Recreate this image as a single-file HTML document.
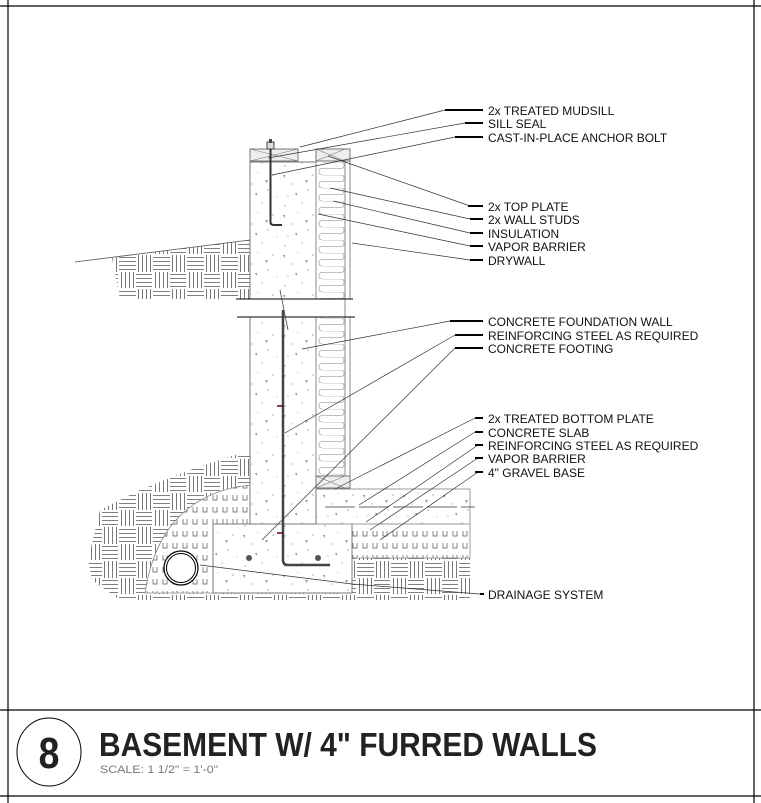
<!DOCTYPE html>
<html><head><meta charset="utf-8"><style>
html,body{margin:0;padding:0;background:#fff;width:761px;height:803px;overflow:hidden}
svg{display:block}
text{font-family:"Liberation Sans",sans-serif}
</style></head><body>
<svg width="761" height="803" viewBox="0 0 761 803" xmlns="http://www.w3.org/2000/svg">
<defs>
<pattern id="earth" width="34" height="34" patternUnits="userSpaceOnUse">
<g stroke="#555" stroke-width="0.8" fill="none">
<path d="M0 2.5h16M0 6.5h16M0 10.5h16M0 14.5h16"/>
<path d="M19.5 0v16M23.5 0v16M27.5 0v16M31.5 0v16"/>
<path d="M2.5 17v17M6.5 17v17M10.5 17v17M14.5 17v17"/>
<path d="M17 19.5h17M17 23.5h17M17 27.5h17M17 31.5h17"/>
</g></pattern>
<pattern id="gravel" width="10" height="12" patternUnits="userSpaceOnUse">
<path d="M3 3v5h4v-5" stroke="#555" stroke-width="0.7" fill="none"/>
</pattern>
<pattern id="conc" width="40" height="40" patternUnits="userSpaceOnUse">
<g fill="#999">
<circle cx="5" cy="6" r="0.7"/><circle cx="22" cy="3" r="0.6"/><circle cx="33" cy="15" r="0.7"/>
<circle cx="12" cy="24" r="0.6"/><circle cx="28" cy="30" r="0.7"/><circle cx="8" cy="36" r="0.6"/>
<circle cx="37" cy="37" r="0.5"/><circle cx="18" cy="13" r="0.5"/>
<path d="M25 20l3 0l-1.5 3z"/><path d="M3 15l2.5 0l-1.2 3z"/><path d="M15 33l2.5 0l-1.2 3z"/>
</g></pattern>
<pattern id="insul" x="318" y="162" width="27" height="13" patternUnits="userSpaceOnUse">
<path d="M4 0 H23 Q26 0 26 3.25 Q26 6.5 23 6.5 H4 Q1 6.5 1 9.75 Q1 13 4 13" stroke="#aaa" stroke-width="0.8" fill="none"/>
</pattern>
</defs>

<!-- frame -->
<g stroke="#000" stroke-width="1.2">
<line x1="0" y1="6" x2="761" y2="6"/>
<line x1="8" y1="0" x2="8" y2="803"/>
<line x1="754" y1="0" x2="754" y2="803"/>
<line x1="0" y1="710" x2="761" y2="710"/>
<line x1="0" y1="796" x2="761" y2="796"/>
</g>

<!-- upper earth -->
<path d="M112 258 L250 240 L250 299 L120 299 Z" fill="url(#earth)"/>
<line x1="75" y1="262" x2="250" y2="240" stroke="#555" stroke-width="0.8"/>
<!-- lower earth -->
<path d="M88 560 L100 510 L140 490 L190 470 L235 455 L250 455 L250 524 L470 524 L470 600 L120 600 L92 580 Z" fill="url(#earth)"/>
<!-- gravel around drain -->
<path d="M145 593 Q160 495 250 485 L250 524 L213 524 L213 593 Z" fill="#fff"/>
<path d="M145 593 Q160 495 250 485 L250 524 L213 524 L213 593 Z" fill="url(#gravel)" stroke="#888" stroke-width="0.8"/>
<!-- gravel under slab -->
<rect x="352" y="524" width="118" height="34" fill="#fff"/>
<rect x="352" y="524" width="118" height="34" fill="url(#gravel)" stroke="#888" stroke-width="0.8"/>

<!-- footing -->
<rect x="213" y="524" width="139" height="69" fill="#fff" stroke="#777"/>
<rect x="213" y="524" width="139" height="69" fill="url(#conc)"/>
<!-- slab -->
<rect x="316" y="489" width="154" height="35" fill="#fff" stroke="#999"/>
<rect x="316" y="489" width="154" height="35" fill="url(#conc)"/>
<line x1="325" y1="507" x2="475" y2="507" stroke="#333" stroke-width="0.8" stroke-dasharray="30 4"/>
<!-- wall -->
<rect x="250" y="162" width="66" height="137" fill="url(#conc)" stroke="#777"/>
<rect x="250" y="317" width="66" height="207" fill="url(#conc)" stroke="#777"/>
<!-- stud wall -->
<rect x="316" y="149" width="34" height="150" fill="#fff" stroke="#888"/>
<rect x="318" y="162" width="27" height="137" fill="url(#insul)"/>
<rect x="316" y="317" width="34" height="172" fill="#fff" stroke="#888"/>
<rect x="318" y="317" width="27" height="159" fill="url(#insul)"/>
<line x1="345" y1="149" x2="345" y2="489" stroke="#888"/>
<!-- top plate -->
<rect x="316" y="149" width="34" height="12" fill="#eee" stroke="#777"/>
<path d="M316 149L345 161M345 149L316 161" stroke="#777" stroke-width="0.6"/>
<!-- bottom plate -->
<rect x="316" y="476" width="34" height="12" fill="#eee" stroke="#777"/>
<path d="M316 476L345 488M345 476L316 488" stroke="#777" stroke-width="0.6"/>
<!-- mudsill -->
<rect x="250" y="149" width="48" height="12" fill="#eee" stroke="#777"/>
<path d="M250 149L298 161M298 149L250 161" stroke="#777" stroke-width="0.6"/>
<!-- anchor bolt -->
<rect x="267" y="142" width="7" height="7" fill="#ddd" stroke="#444"/>
<rect x="269" y="139" width="3" height="4" fill="#444"/>
<path d="M270.5 149 V222 Q270.5 225 274 225 H282" stroke="#333" stroke-width="2" fill="none"/>

<!-- break lines -->
<g stroke="#000" stroke-width="1">
<line x1="236" y1="299" x2="353" y2="299"/>
<line x1="237" y1="317" x2="355" y2="317"/>
</g>
<line x1="280" y1="290" x2="288" y2="330" stroke="#444" stroke-width="0.8"/>
<!-- rebar -->
<path d="M283 310 V560 Q283 565 288 565 H330" stroke="#444" stroke-width="2.5" fill="none"/>
<path d="M277 406h6M277 533h6" stroke="#600" stroke-width="1.5"/>
<circle cx="249" cy="558" r="3" fill="#555"/>
<circle cx="318" cy="558" r="3" fill="#555"/>
<!-- pipe -->
<circle cx="181" cy="568" r="17" fill="#fff" stroke="#000" stroke-width="1.2"/>
<circle cx="181" cy="568" r="14.5" fill="none" stroke="#000" stroke-width="1"/>

<!-- leaders -->
<g stroke="#333" stroke-width="0.7" fill="none">
<path d="M445 110 L300 147"/>
<path d="M465 123 L268 158"/>
<path d="M455 137 L272 175"/>
<path d="M470 206 L328 156"/>
<path d="M470 219 L330 188"/>
<path d="M470 233 L333 201"/>
<path d="M470 246 L318 214"/>
<path d="M470 260 L352 243"/>
<path d="M450 321 L302 349"/>
<path d="M455 335 L285 433"/>
<path d="M455 348 L262 540"/>
<path d="M475 418 L335 489"/>
<path d="M475 432 L359 505"/>
<path d="M478 445 L366 522"/>
<path d="M478 458 L370 530"/>
<path d="M478 472 L380 540"/>
<path d="M480 594 L352 584 L200 565"/>
</g>
<g stroke="#000" stroke-width="2">
<path d="M445 110h38M465 123h18M455 137h28M468 206h15M470 219h13M470 233h13M470 246h13M470 260h13"/>
<path d="M450 321h33M455 335h28M455 348h28M475 418h8M475 432h8M475 445h8M475 458h8M475 472h8M480 594h4"/>
</g>
<g font-size="12" fill="#111">
<text x="488" y="115">2x TREATED MUDSILL</text>
<text x="488" y="128">SILL SEAL</text>
<text x="488" y="142">CAST-IN-PLACE ANCHOR BOLT</text>
<text x="488" y="211">2x TOP PLATE</text>
<text x="488" y="224">2x WALL STUDS</text>
<text x="488" y="238">INSULATION</text>
<text x="488" y="251">VAPOR BARRIER</text>
<text x="488" y="265">DRYWALL</text>
<text x="488" y="326">CONCRETE FOUNDATION WALL</text>
<text x="488" y="340">REINFORCING STEEL AS REQUIRED</text>
<text x="488" y="353">CONCRETE FOOTING</text>
<text x="488" y="423">2x TREATED BOTTOM PLATE</text>
<text x="488" y="437">CONCRETE SLAB</text>
<text x="488" y="450">REINFORCING STEEL AS REQUIRED</text>
<text x="488" y="463">VAPOR BARRIER</text>
<text x="488" y="477">4" GRAVEL BASE</text>
<text x="488" y="599">DRAINAGE SYSTEM</text>
</g>

<!-- title -->
<ellipse cx="49" cy="752" rx="32" ry="34" fill="none" stroke="#000" stroke-width="1"/>
<text x="49" y="768" font-size="44" font-weight="bold" text-anchor="middle" fill="#222" transform="translate(49 0) scale(0.85 1) translate(-49 0)">8</text>
<text x="99" y="756" font-size="33" font-weight="bold" fill="#222" textLength="498" lengthAdjust="spacingAndGlyphs">BASEMENT W/ 4" FURRED WALLS</text>
<text x="100" y="773" font-size="11" fill="#777" textLength="118" lengthAdjust="spacingAndGlyphs">SCALE: 1 1/2" = 1'-0"</text>
</svg>
</body></html>
